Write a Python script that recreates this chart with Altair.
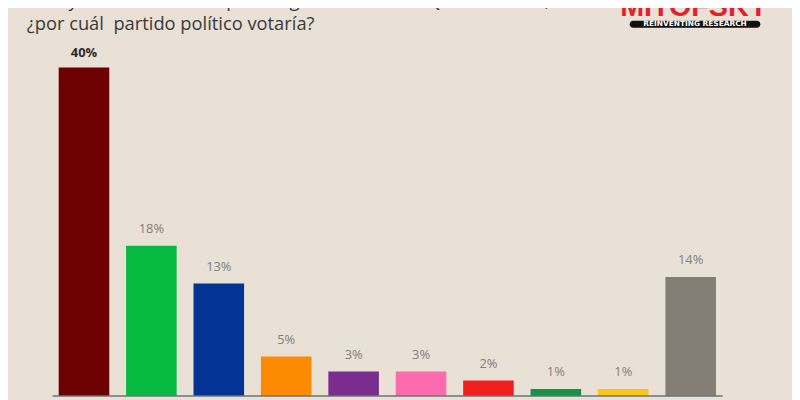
import altair as alt
import pandas as pd

parties = ["MORENA", "PVEM", "PAN", "MC", "MAS", "FXM", "PRI", "CQROO", "PRD", "No declara"]
values = [40, 18.3, 13.7, 4.8, 3.0, 3.0, 1.9, 0.85, 0.85, 14.5]
labels = ["40%", "18%", "13%", "5%", "3%", "3%", "2%", "1%", "1%", "14%"]
colors = ["#6d0000", "#07ba40", "#033495", "#fd8a02", "#7a2c8f", "#fd6baf",
          "#f0201d", "#159447", "#fdc519", "#857e77"]
bold = [True, False, False, False, False, False, False, False, False, False]

title1 = "Si hoy fuera la elección para la gubernatura de Quintana Roo,"
title2 = "¿por cuál\u00a0 partido político votaría?"

df = pd.DataFrame({"party": parties, "value": values, "label": labels, "bold": bold})

xs = alt.X("party:N", sort=None, axis=None,
           scale=alt.Scale(paddingInner=0.25, paddingOuter=0.94, align=0.4))
ys = alt.Y("value:Q", axis=None, scale=alt.Scale(domain=[-0.241, 46.988]))

base = alt.Chart(df)

bars = base.mark_bar().encode(
    x=xs, y=ys,
    color=alt.Color("party:N", scale=alt.Scale(domain=parties, range=colors), legend=None),
)

lab_norm = base.transform_filter("!datum.bold").mark_text(
    dy=-17, fontSize=13, font="Open Sans", color="#808080", baseline="middle"
).encode(x=xs, y=ys, text="label:N")

lab_bold = base.transform_filter("datum.bold").mark_text(
    dy=-15, fontSize=13, font="Open Sans", fontWeight="bold", color="#2b2b2b", baseline="middle"
).encode(x=xs, y=ys, text="label:N")

baseline = alt.Chart(pd.DataFrame({"a": [0]})).mark_rule(color="#6d747a", strokeWidth=1.5).encode(
    x=alt.value(45), x2=alt.value(722), y=alt.value(390)
)

one = pd.DataFrame({"t1": [title1], "t2": [title2], "logo": ["MITOFSKY"], "sub": ["REINVENTING RESEARCH"]})

t1 = alt.Chart(one).mark_text(align="left", baseline="alphabetic", fontSize=18.5, font="Open Sans",
                              color="#3a3a3a").encode(x=alt.value(19), y=alt.value(-3), text="t1:N")
t2 = alt.Chart(one).mark_text(align="left", baseline="middle", fontSize=18.5, font="Open Sans",
                              color="#3a3a3a").encode(x=alt.value(19), y=alt.value(14), text="t2:N")

logo = alt.Chart(one).mark_text(align="center", baseline="alphabetic", fontSize=29,
                                font="Liberation Sans", fontWeight="bold",
                                color="#e3202c").encode(x=alt.value(693), y=alt.value(6), text="logo:N")
pill = alt.Chart(one).mark_rect(color="#111111", cornerRadius=3.5).encode(
    x=alt.value(628), x2=alt.value(760), y=alt.value(11), y2=alt.value(18)
)
sub = alt.Chart(one).mark_text(align="center", baseline="middle", fontSize=7.5, fontWeight="bold",
                               font="DejaVu Sans", color="#ffffff").encode(
    x=alt.value(694), y=alt.value(14.5), text="sub:N")

chart = alt.layer(bars, baseline, lab_norm, lab_bold, t1, t2, logo, pill, sub).properties(
    width=792, height=392,
    autosize=alt.AutoSizeParams(type="none"),
    padding=0,
    background="#e9e0d6",
).configure_view(stroke=None)

chart.save("out.html", embed_options={"renderer": "svg", "actions": False})
